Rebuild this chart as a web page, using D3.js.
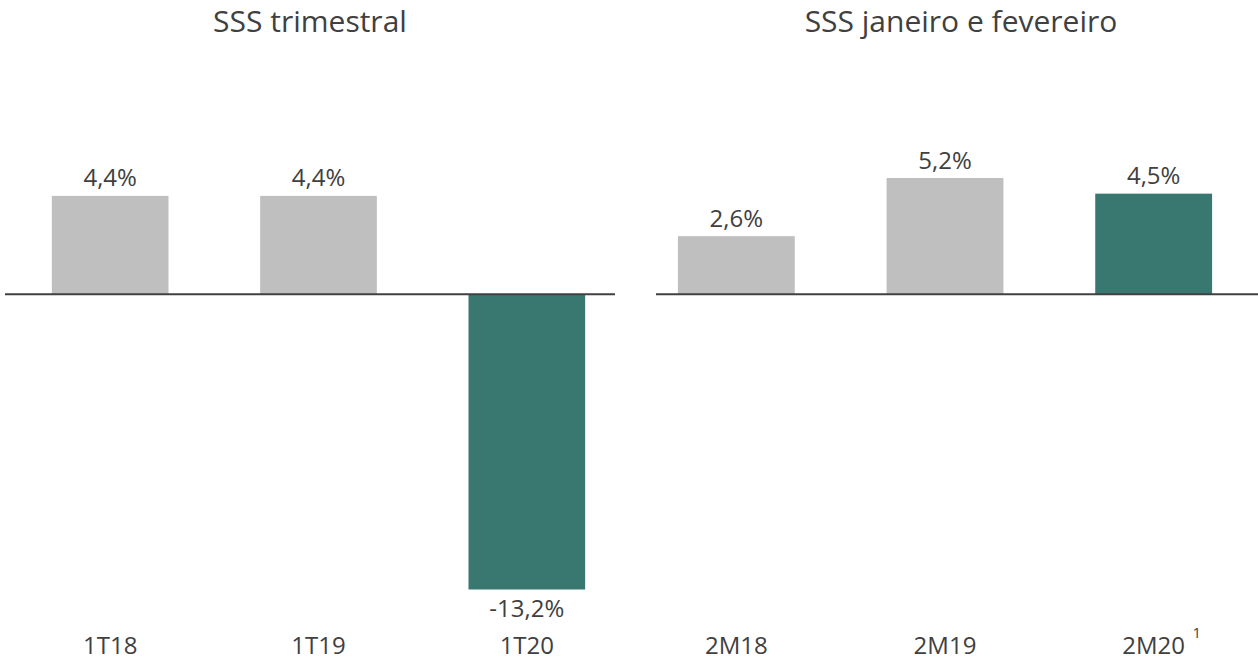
<!DOCTYPE html>
<html lang="pt">
<head>
<meta charset="UTF-8">
<title>SSS</title>
<style>
  body { margin: 0; background: #fff; }
  svg text { font-family: "Open Sans", "Noto Sans", sans-serif; fill: #404040; }
</style>
<script src="https://d3js.org/d3.v7.min.js"></script>
</head>
<body>
<svg id="chart" width="1258" height="667"></svg>
<script>
// data
var titles = ["SSS trimestral", "SSS janeiro e fevereiro"];
var catsLeft = ["1T18", "1T19", "1T20"];
var valsLeft = [4.4, 4.4, -13.2];
var catsRight = ["2M18", "2M19", "2M20"];
var valsRight = [2.6, 5.2, 4.5];
var highlight = ["1T20", "2M20"];

var gray = "#bfbfbf", green = "#387870";
var svg = d3.select("#chart");

var y = d3.scaleLinear().domain([-13.2, 5.2]).range([589.5, 178]);

var panels = [
  { title: titles[0], cats: catsLeft, vals: valsLeft, x0: 6, x1: 631, line: [5, 615], tx: 310 },
  { title: titles[1], cats: catsRight, vals: valsRight, x0: 632, x1: 1258, line: [656, 1258], tx: 961 }
];

panels.forEach(function (p) {
  var x = d3.scaleBand().domain(p.cats).range([p.x0, p.x1]).paddingInner(0.44).paddingOuter(0.22);
  var g = svg.append("g");

  g.append("text")
    .attr("x", p.tx).attr("y", 32)
    .attr("text-anchor", "middle")
    .style("font-size", "30px")
    .text(p.title);

  var data = p.cats.map(function (c, i) { return { cat: c, val: p.vals[i] }; });

  g.selectAll("rect").data(data).enter().append("rect")
    .attr("x", function (d) { return x(d.cat); })
    .attr("width", x.bandwidth())
    .attr("y", function (d) { return y(Math.max(0, d.val)); })
    .attr("height", function (d) { return Math.abs(y(d.val) - y(0)); })
    .attr("fill", function (d) { return highlight.indexOf(d.cat) >= 0 ? green : gray; });

  g.append("line")
    .attr("x1", p.line[0]).attr("x2", p.line[1])
    .attr("y1", y(0)).attr("y2", y(0))
    .attr("stroke", "#404040").attr("stroke-width", 2);

  g.selectAll(".val").data(data).enter().append("text")
    .attr("class", "val")
    .attr("x", function (d) { return x(d.cat) + x.bandwidth() / 2; })
    .attr("y", function (d) { return d.val >= 0 ? y(d.val) - 9.5 : y(d.val) + 27; })
    .attr("text-anchor", "middle")
    .style("font-size", "24px")
    .text(function (d) { return (d.val < 0 ? "-" : "") + d3.format(".1f")(Math.abs(d.val)).replace(".", ",") + "%"; });

  g.selectAll(".cat").data(data).enter().append("text")
    .attr("class", "cat")
    .attr("x", function (d) { return x(d.cat) + x.bandwidth() / 2; })
    .attr("y", 654)
    .attr("text-anchor", "middle")
    .style("font-size", "24px")
    .text(function (d) { return d.cat; });

  if (p.cats.indexOf("2M20") >= 0) {
    g.append("text")
      .attr("x", x("2M20") + x.bandwidth() / 2 + 43).attr("y", 638)
      .attr("text-anchor", "middle")
      .style("font-size", "15px")
      .text("1");
  }
});
</script>
</body>
</html>
